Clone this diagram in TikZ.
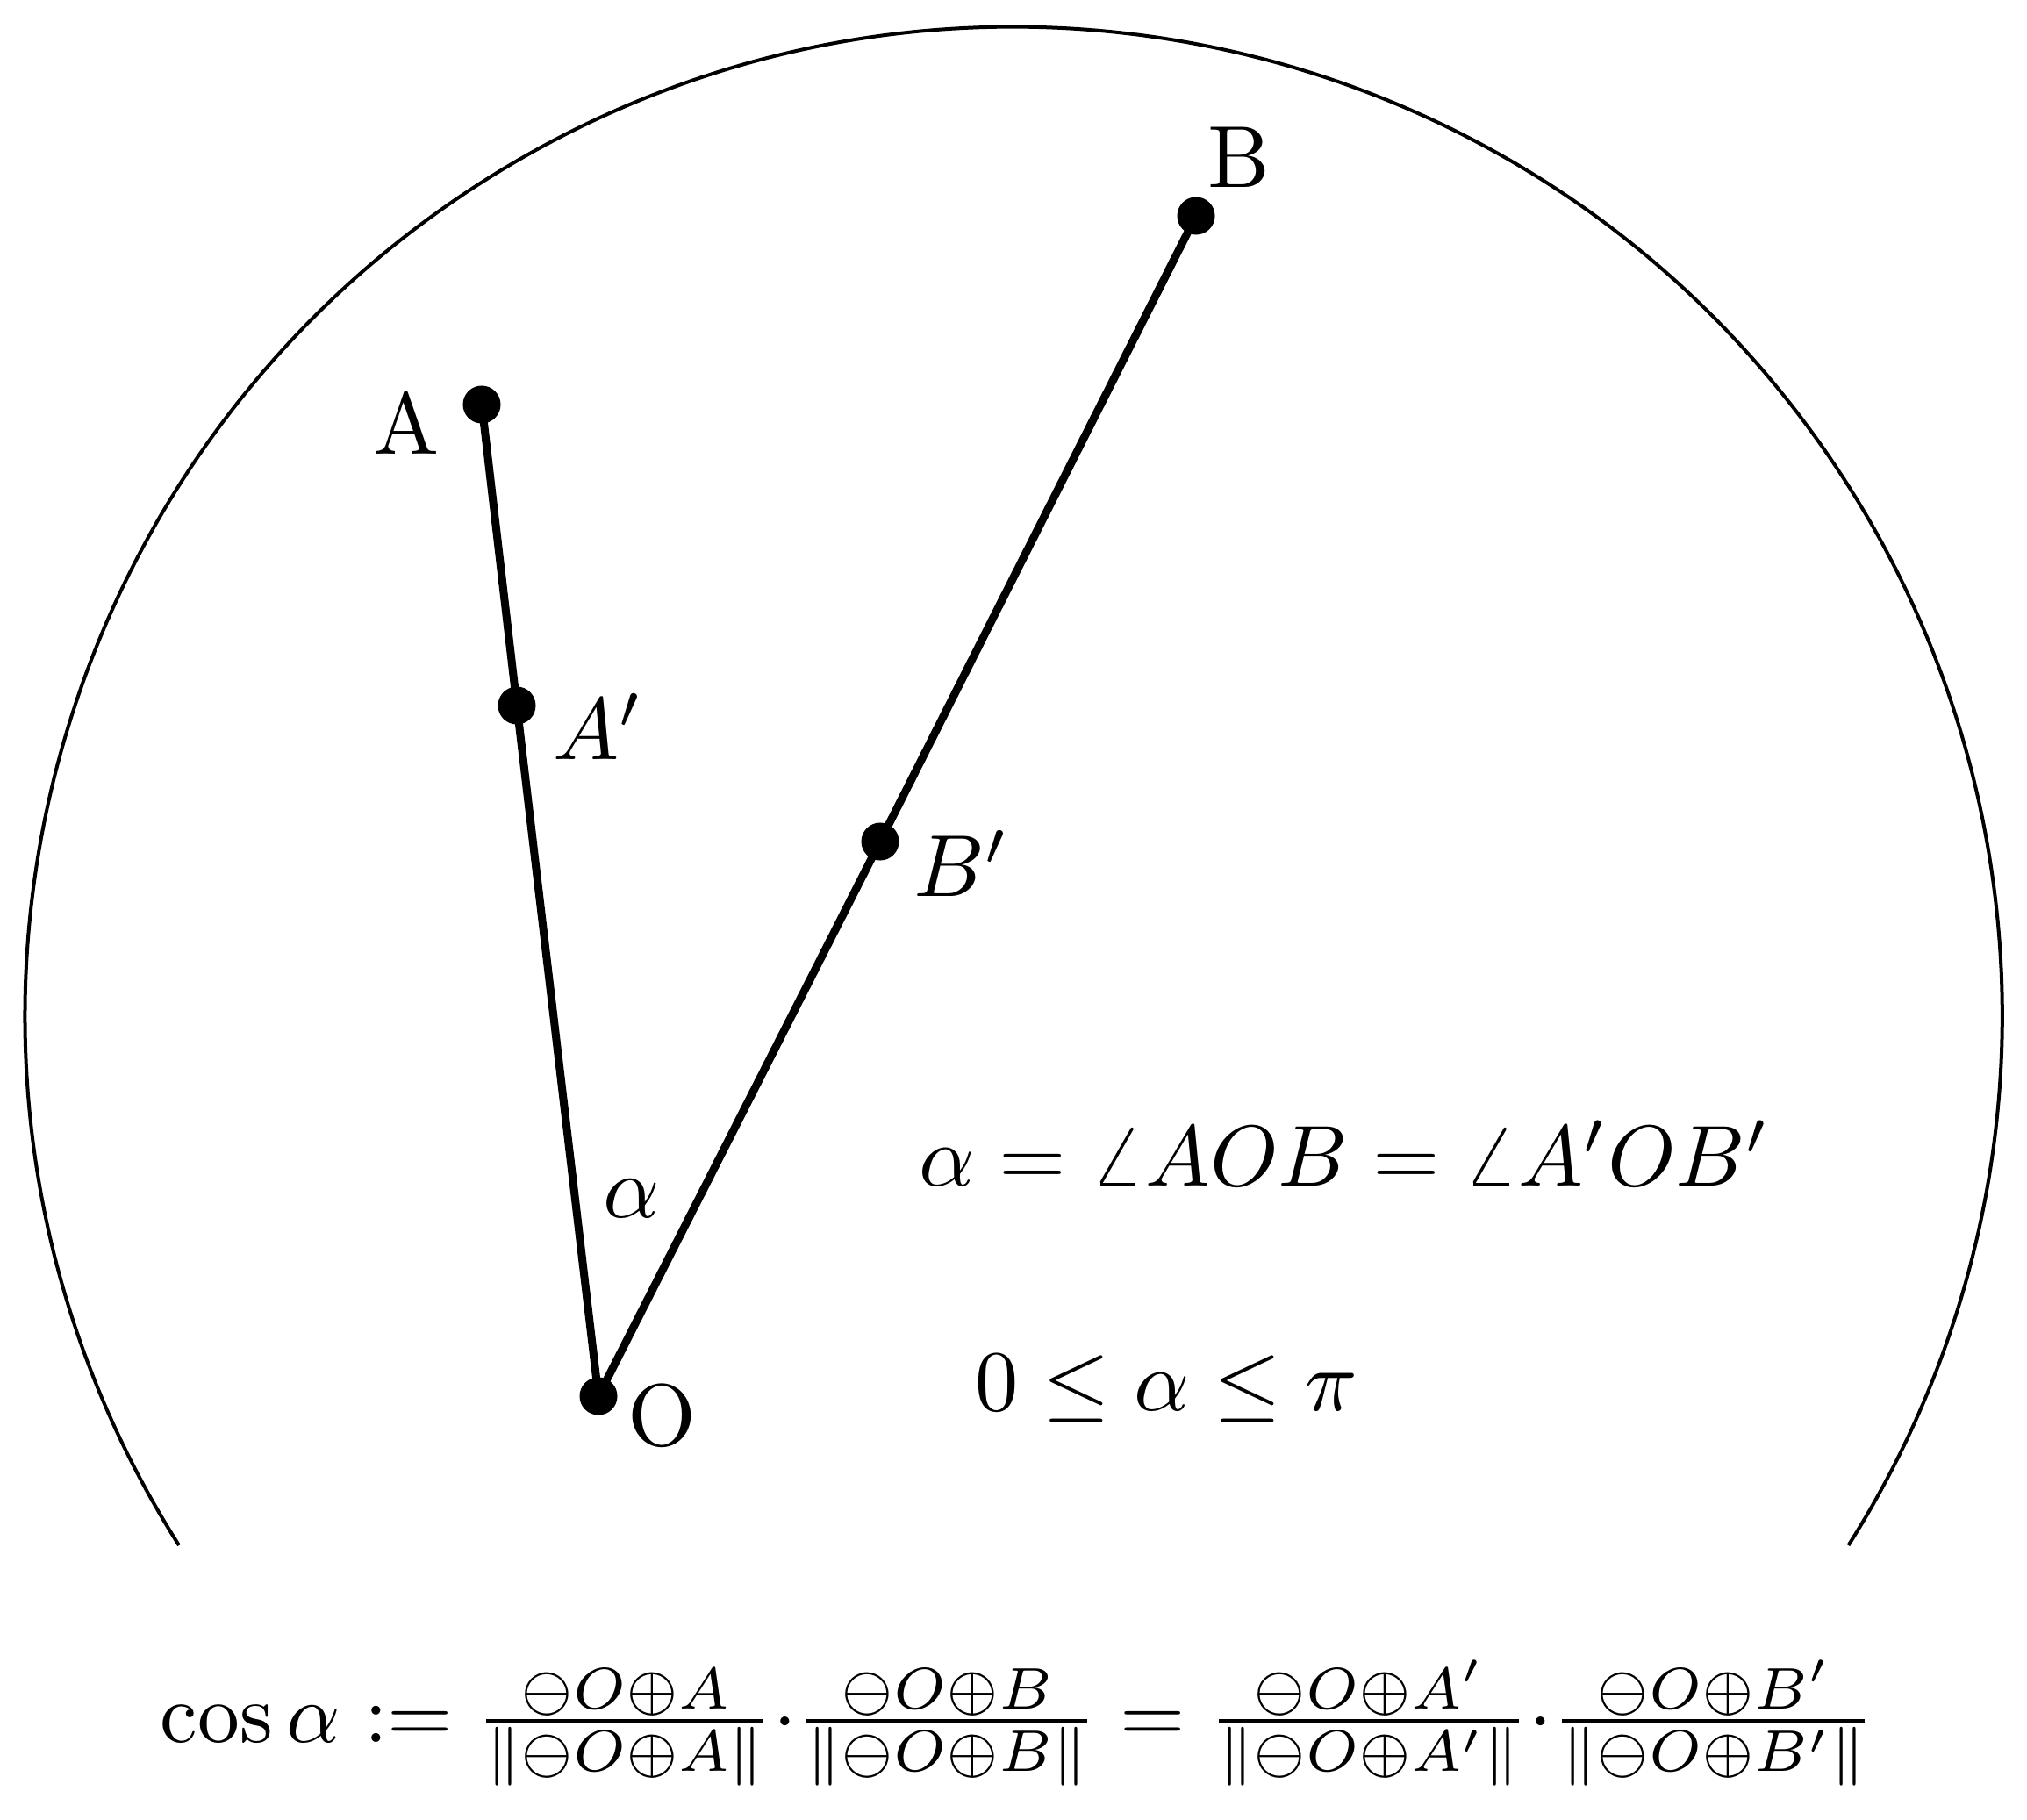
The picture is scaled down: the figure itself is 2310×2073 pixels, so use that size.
\documentclass[tikz,border=0pt]{standalone}
\usepackage{amsmath}
\begin{document}
\begin{tikzpicture}[x=0.01cm,y=-0.01cm,
  dot/.style={circle,fill=black,draw=none,minimum size=0.43cm,inner sep=0pt},
  seg/.style={line width=0.09cm},
  rim/.style={line width=0.04cm},
  lbl/.style={inner sep=0pt,scale=2.85},
  eqn/.style={inner sep=0pt,scale=2.8}]
\useasboundingbox (0,0) rectangle (2310,2073);
% circle arc
\draw[rim] (204,1761) arc[start angle=212.4,end angle=-32.4,radius=11.26cm];
% points
\node[dot] (A)  at (549,461) {};
\node[dot] (Ap) at (589,804) {};
\node[dot] (O)  at (682,1591) {};
\node[dot] (Bp) at (1003,959) {};
\node[dot] (B)  at (1363,246) {};
\draw[seg] (A.center) -- (Ap.center) -- (O.center) -- (Bp.center) -- (B.center);
% labels
\node[lbl] (lA)  at (463,482) {A};
\node[lbl] (lB)  at (1412,179) {B};
\node[lbl] (lO)  at (754,1613) {O};
\node[lbl] (lAp) at (682,828) {$A'$};
\node[lbl] (lBp) at (1096,984) {$B'$};
\node[lbl] (la)  at (720,1366) {$\alpha$};
\node[eqn,anchor=base west] (e1) at (1046,1351) {$\alpha = \angle AOB = \angle A'OB'$};
\node[eqn,anchor=base west] (e2) at (1110,1607) {$0 \le \alpha \le \pi$};
\node[inner sep=0pt,scale=2.72,anchor=base west] (e3) at (181,1985) {$\cos\alpha := \frac{\ominus O\oplus A}{\|\ominus O\oplus A\|}{\cdot}\frac{\ominus O\oplus B}{\|\ominus O\oplus B\|} = \frac{\ominus O\oplus A'}{\|\ominus O\oplus A'\|}{\cdot}\frac{\ominus O\oplus B'}{\|\ominus O\oplus B'\|}$};
\end{tikzpicture}
\end{document}
